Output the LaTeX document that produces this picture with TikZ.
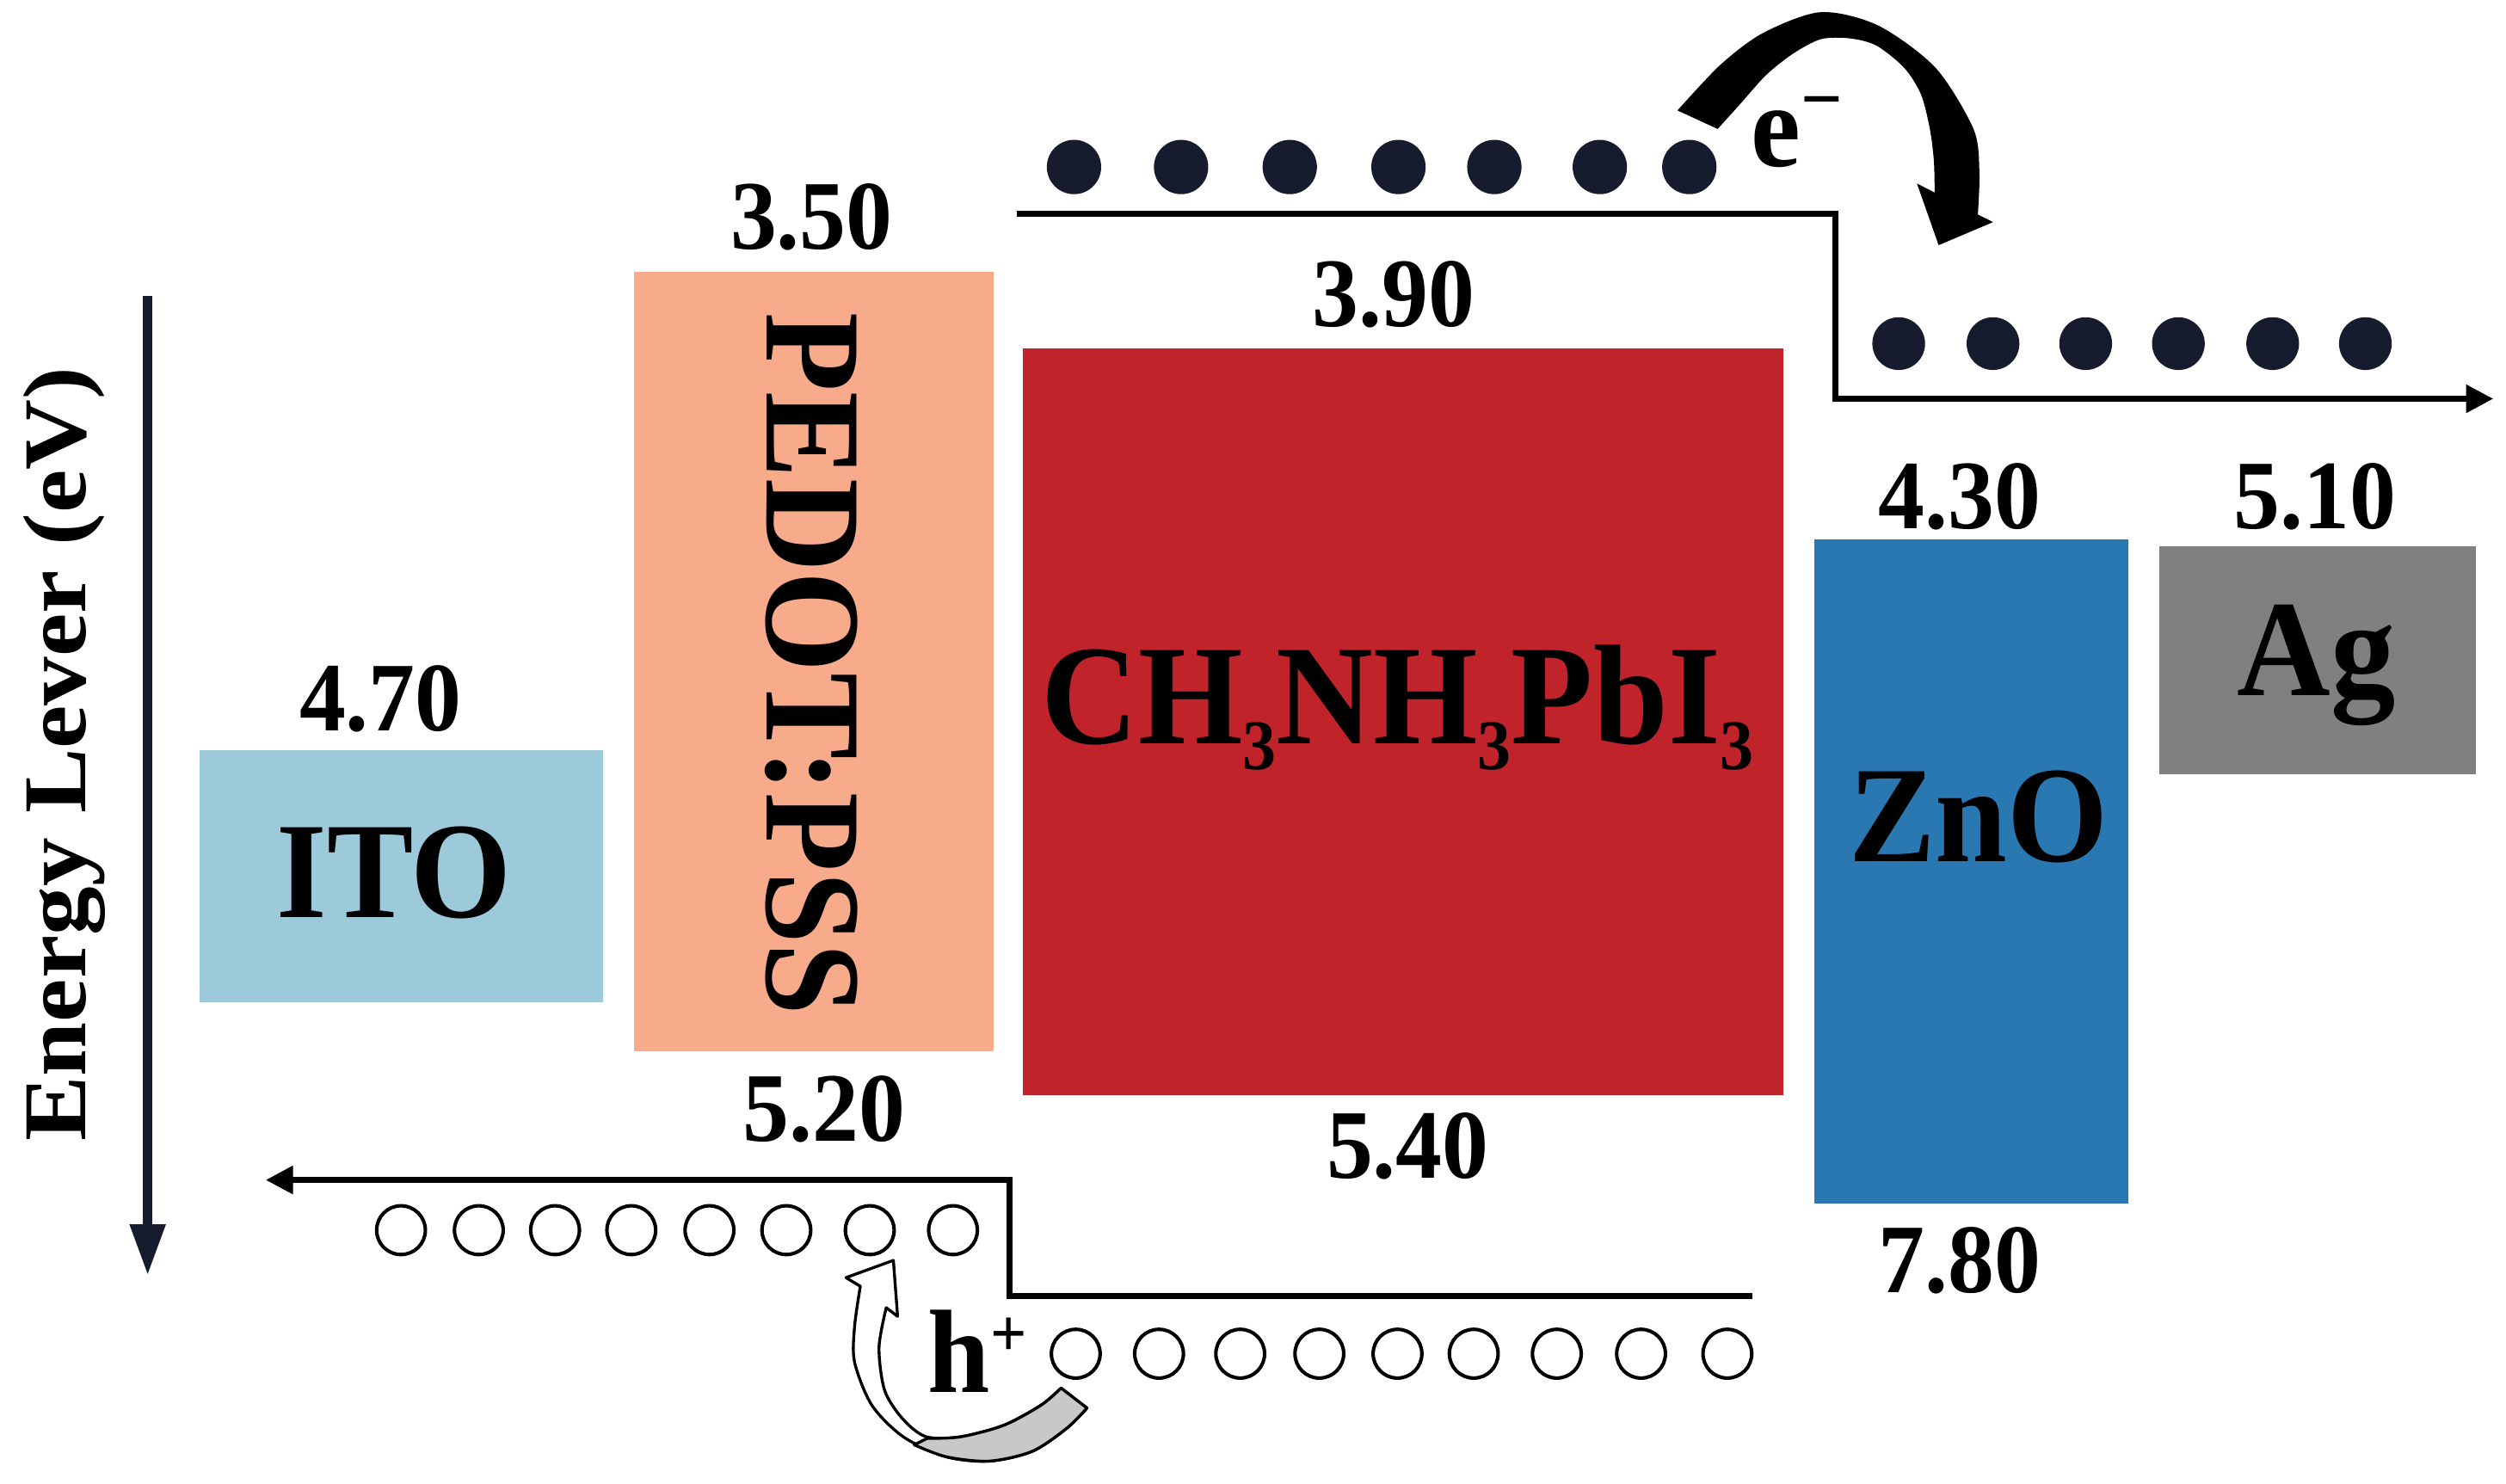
\documentclass[tikz,border=0pt]{standalone}
\usepackage{fontspec}
\setmainfont{Liberation Serif}
\usepackage{graphicx}
\usetikzlibrary{arrows.meta}
\definecolor{itoC}{HTML}{9DCADA}
\definecolor{pedC}{HTML}{F7AB8A}
\definecolor{perC}{HTML}{C0242A}
\definecolor{znoC}{HTML}{2A78B2}
\definecolor{agC}{HTML}{808080}
\definecolor{navy}{HTML}{161B2D}
\definecolor{ribbon}{HTML}{C8C8C8}
\newcommand{\sv}[1]{\scalebox{1}[1.06]{#1}}
\newcommand{\subt}[1]{\raisebox{-15pt}{\fontsize{42}{42}\selectfont #1}}
\begin{document}
\begin{tikzpicture}[x=1pt,y=-1pt,
  band/.style={rectangle,inner sep=0pt,outer sep=0pt,draw=none},
  lab/.style={inner sep=0pt,font=\bfseries\fontsize{81}{81}\selectfont},
  biglab/.style={inner sep=0pt,font=\bfseries\fontsize{84}{84}\selectfont},
  num/.style={inner sep=0pt,font=\bfseries\fontsize{58}{58}\selectfont},
  axlab/.style={inner sep=0pt,font=\bfseries\fontsize{61}{61}\selectfont},
  carrier/.style={inner sep=0pt,font=\bfseries\fontsize{70}{70}\selectfont},
  edot/.style={circle,fill=navy,draw=none,minimum size=34pt,inner sep=0pt},
  hole/.style={circle,draw=black,line width=2.2pt,fill=white,minimum size=30.5pt,inner sep=0pt},
  level/.style={draw=black,line width=3.6pt,line join=miter},
  tipA/.style={-{Triangle[length=17pt,width=17pt]}}
]
\useasboundingbox (0,0) rectangle (1568,928);

% energy bands
\node[band,fill=itoC,minimum width=252.3pt,minimum height=157.9pt] (ito) at (251,548.2) {};
\node[band,fill=pedC,minimum width=225.2pt,minimum height=487.7pt] (ped) at (509.1,413.9) {};
\node[band,fill=perC,minimum width=475.9pt,minimum height=467.4pt] (per) at (877.75,451.7) {};
\node[band,fill=znoC,minimum width=196.6pt,minimum height=415.5pt] (zno) at (1233.3,545.3) {};
\node[band,fill=agC,minimum width=198.2pt,minimum height=142.4pt] (ag) at (1449.9,413.2) {};

% material labels
\node[lab,anchor=base] (itoL) at (246.7,574.2) {\sv{ITO}};
\node[lab,anchor=base,rotate=-90] (pedL) at (480,415.7) {\sv{PEDOT:PSS}};
\node[biglab,anchor=base] (perL) at (874.6,465.6) {\sv{CH\subt{3}NH\subt{3}PbI\subt{3}}};
\node[lab,anchor=base] (znoL) at (1237.8,539.2) {\sv{ZnO}};
\node[lab,anchor=base] (agL) at (1449.2,435.1) {\sv{Ag}};

% energy values
\node[num] (v350) at (507.8,136) {\sv{3.50}};
\node[num] (v390) at (872,184) {\sv{3.90}};
\node[num] (v470) at (238.1,437) {\sv{4.70}};
\node[num] (v430) at (1226,310.5) {\sv{4.30}};
\node[num] (v510) at (1448.5,310.5) {\sv{5.10}};
\node[num] (v520) at (515.5,694) {\sv{5.20}};
\node[num] (v540) at (880.8,717.3) {\sv{5.40}};
\node[num] (v780) at (1226,789) {\sv{7.80}};

% energy axis
\coordinate (axT) at (92.4,185);
\coordinate (axB) at (92.4,798);
\draw[navy,line width=6pt,-{Triangle[length=32pt,width=21pt]}] (axT) -- (axB);
\node[axlab,anchor=base,rotate=90] (axL) at (53.8,472) {\scalebox{1}[0.92]{Energy Lever (eV)}};

% electron level path
\coordinate (eA) at (636,133.7);
\coordinate (eB) at (1148.5,133.7);
\coordinate (eC) at (1148.5,249.5);
\coordinate (eD) at (1560,249.5);
\draw[level,tipA] (eA) -- (eB) -- (eC) -- (eD);

% hole level path
\coordinate (hA) at (1096.7,811);
\coordinate (hB) at (631.8,811);
\coordinate (hC) at (631.8,738.3);
\coordinate (hD) at (166.3,738.3);
\draw[level,tipA] (hA) -- (hB) -- (hC) -- (hD);

% electrons
\foreach \x [count=\i] in {672,739,807,875,935,1001,1057}
  \node[edot] (eu\i) at (\x,104.5) {};
\foreach \x [count=\i] in {1188,1247,1305,1363,1422,1480}
  \node[edot,minimum size=33pt] (el\i) at (\x,215) {};

% holes
\foreach \x [count=\i] in {250.9,299.6,347.3,395,443.9,492,544.2,596.3}
  \node[hole] (hu\i) at (\x,769.7) {};
\foreach \x [count=\i] in {673.1,725.2,776,825.5,874.4,922.1,974.1,1026.8,1080.8}
  \node[hole] (hl\i) at (\x,847) {};

% carrier labels
\node[carrier,anchor=base west] (eLab) at (1095.4,104) {\sv{e\raisebox{24pt}{\fontsize{46}{46}\selectfont −}}};
\node[carrier,anchor=base west] (hLab) at (580.5,871) {\sv{h\raisebox{21pt}{\fontsize{40}{40}\selectfont +}}};

% curved electron arrow
\fill[black] (1049.6,69.1) -- plot[smooth] coordinates {(1049.6,69.1) (1076.5,40.5) (1103.4,20.5) (1139.3,7.6) (1175.2,16) (1211.1,42.5) (1234.8,80.7) (1238.5,107.7) (1237.5,134.2)}
  -- (1247,139) -- (1213,153.4) -- (1199.4,114.8) -- (1210.5,120.5)
  -- plot[smooth] coordinates {(1210.5,120.5) (1210,100.5) (1207.5,80.7) (1202,59.2) (1191.5,42.5) (1174,28.5) (1157.3,24) (1139.3,24.5) (1122,33.5) (1105,47) (1088,66) (1074.7,80.7)}
  -- cycle;

% curved hole arrow
\draw[black,line width=1.8pt,fill=white,line join=round] (559,788.6) -- (529.3,799.4) -- (538.3,804.8)
  -- plot[smooth] coordinates {(538.3,804.8) (534.7,830) (534.7,852.3) (545.5,879.2) (565.2,899) (592.1,911.5) (619,914.2) (646,908) (667.5,893.6) (680.1,881)}
  -- (663.9,868.5)
  -- plot[smooth] coordinates {(663.9,868.5) (651.4,879.2) (628,891.8) (601,899) (579.6,899) (565.2,888.2) (553.6,870.2) (550,843.3) (554.5,818.2)}
  -- (561.6,823.6) -- cycle;
\draw[black,line width=1.8pt,fill=ribbon,line join=round] (572,904)
  -- plot[smooth] coordinates {(572,904) (592.1,911.5) (619,914.2) (646,908) (667.5,893.6) (680.1,881)}
  -- (663.9,868.5)
  -- plot[smooth] coordinates {(663.9,868.5) (651.4,879.2) (628,891.8) (601,899) (580,900)}
  -- cycle;
\end{tikzpicture}
\end{document}
